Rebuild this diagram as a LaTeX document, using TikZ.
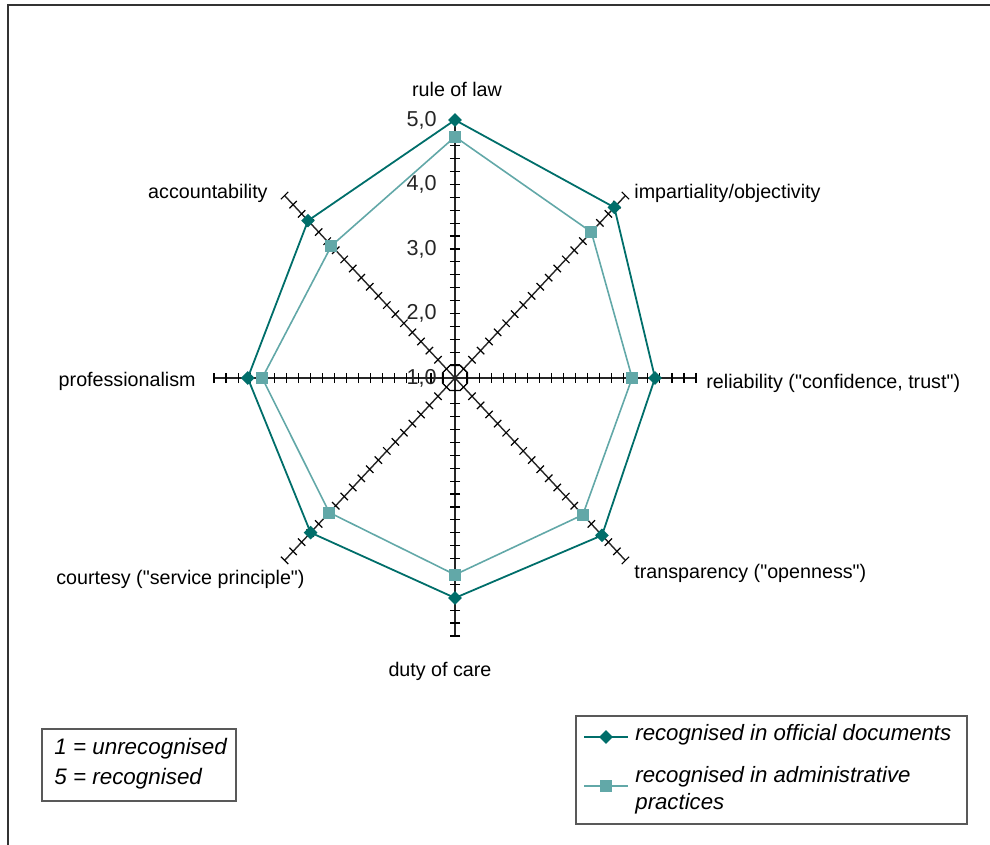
\documentclass[tikz,border=0pt]{standalone}
\usepackage{fontspec}
\setmainfont{Liberation Sans}[Ligatures=TeXOff]
\usetikzlibrary{shapes.geometric,positioning}

\definecolor{officialteal}{RGB}{0,110,106}
\definecolor{practiceteal}{RGB}{98,168,168}

\tikzset{
  axisline/.style={black!85, line width=0.7pt},
  tickmark/.style={black, line width=0.6pt},
  catlabel/.style={inner sep=0pt, font=\fontsize{9.85}{11.8}\selectfont},
  ticklabel/.style={inner sep=0pt, font=\fontsize{10.8}{12.5}\selectfont, text=black!85},
  officialline/.style={officialteal, line width=0.9pt},
  practiceline/.style={practiceteal, line width=0.8pt},
  diamondmark/.style={diamond, fill=officialteal, inner sep=0pt, minimum size=7pt},
  squaremark/.style={rectangle, fill=practiceteal, inner sep=0pt, minimum size=6pt},
  legendbox/.style={draw=black!65, line width=0.6pt},
  legendtext/.style={inner sep=0pt, align=left, font=\fontsize{11.1}{13.5}\selectfont\itshape}
}

\begin{document}
\begin{tikzpicture}[x=0.5pt,y=0.5pt]
    \useasboundingbox (0,0) rectangle (990,845);

    % Frame
    \draw[line width=1.3pt, black!80] (8,0) |- (990,840);

    % Radar chart
    \begin{scope}[shift={(455,467)}, x=30.125pt, y=32.25pt]
        % Axes with tick marks
        \foreach \a in {0,45,...,315} {
            \draw[axisline] (0,0) -- (\a:4);
            \foreach \k in {1,...,20} {
                \pgfmathsetmacro\r{\k/5}
                \draw[tickmark] (\a:\r) ++(\a+90:2.6pt) -- ++(\a-90:5.2pt);
            }
        }
        \node[draw, regular polygon, regular polygon sides=8, minimum size=13.5pt,
              inner sep=0pt, line width=0.6pt] (hub) at (0,0) {};

        % Scale labels
        \foreach \r/\t in {0/{1,0},1/{2,0},2/{3,0},3/{4,0},4/{5,0}}
            \node[ticklabel, anchor=east] (scale\r) at ([xshift=-9pt]0,\r) {\t};

        % Series: recognised in administrative practices
        \foreach \a/\r [count=\i] in {90/3.74, 45/3.2, 0/2.94, -45/3.0, -90/3.05, -135/2.95, 180/3.2, 135/2.9}
            \coordinate (prac\i) at (\a:\r);
        \draw[practiceline] (prac1) -- (prac2) -- (prac3) -- (prac4) -- (prac5) -- (prac6) -- (prac7) -- (prac8) -- cycle;
        \foreach \i in {1,...,8}
            \node[squaremark] (pracmark\i) at (prac\i) {};

        % Series: recognised in official documents
        \foreach \a/\r [count=\i] in {90/4.0, 45/3.74, 0/3.32, -45/3.45, -90/3.41, -135/3.39, 180/3.44, 135/3.45}
            \coordinate (off\i) at (\a:\r);
        \draw[officialline] (off1) -- (off2) -- (off3) -- (off4) -- (off5) -- (off6) -- (off7) -- (off8) -- cycle;
        \foreach \i in {1,...,8}
            \node[diamondmark] (offmark\i) at (off\i) {};
    \end{scope}

    % Category labels
    \node[catlabel] (rulelaw) at (457,756) {rule of law};
    \node[catlabel, anchor=west] (impart) at (634,652) {impartiality/objectivity};
    \node[catlabel, anchor=west] (reliab) at (706,462) {reliability ("confidence, trust")};
    \node[catlabel, anchor=west] (transp) at (634,272) {transparency ("openness")};
    \node[catlabel] (dutycare) at (440,174) {duty of care};
    \node[catlabel, anchor=east] (courtesy) at (305,266) {courtesy ("service principle")};
    \node[catlabel, anchor=east] (profess) at (196,464) {professionalism};
    \node[catlabel, anchor=east] (account) at (268,652) {accountability};

    % Scale note
    \draw[legendbox] (42,44) rectangle (236,116);
    \node[legendtext, anchor=west, font=\fontsize{11.2}{15}\selectfont\itshape] (scalenote) at (54,81)
        {1 = unrecognised\\5 = recognised};

    % Legend
    \draw[legendbox] (576,21) rectangle (967,129);
    \coordinate (offleg1) at (584,108);
    \coordinate (offleg2) at (628,108);
    \draw[officialline] (offleg1) -- (offleg2);
    \node[diamondmark] (offlegmark) at (606,108) {};
    \node[legendtext, anchor=west] (offlegtext) at (635,110) {recognised in official documents};
    \coordinate (pracleg1) at (584,59);
    \coordinate (pracleg2) at (628,59);
    \draw[practiceline] (pracleg1) -- (pracleg2);
    \node[squaremark] (praclegmark) at (606,59) {};
    \node[legendtext, anchor=west] (praclegtext) at (635,54.5) {recognised in administrative\\practices};
\end{tikzpicture}
\end{document}
